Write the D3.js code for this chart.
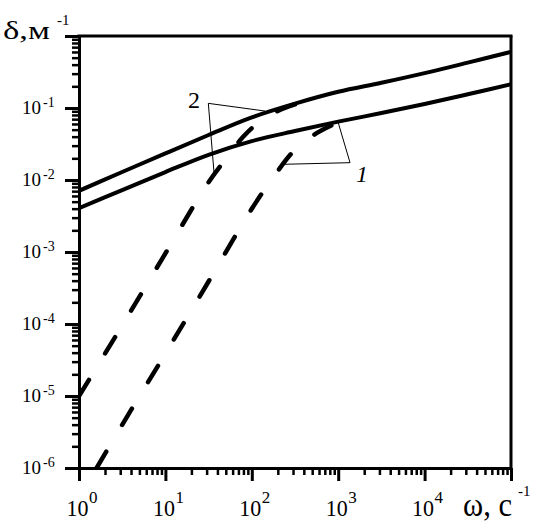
<!DOCTYPE html>
<html><head><meta charset="utf-8">
<script src="https://cdn.jsdelivr.net/npm/d3@7"></script>
<style>
body{margin:0;background:#fff}
svg{display:block}
text{font-family:"Liberation Serif","DejaVu Serif","Times New Roman",serif;fill:#000}
</style>
</head><body>
<svg id="chart" width="543" height="527" font-family="Liberation Serif, DejaVu Serif, serif"></svg>
<script>
// ---- data ----
const omegaSolid  = [1, 3.16, 10, 31.6, 100, 316, 1000, 3162, 1e4, 31623, 1e5];
const deltaSolid2 = [7.08e-3, 1.29e-2, 2.34e-2, 4.22e-2, 7.41e-2, 0.115, 0.168, 0.224, 0.305, 0.427, 0.603];
const deltaSolid1 = [4.07e-3, 7.24e-3, 1.29e-2, 2.24e-2, 3.47e-2, 4.79e-2, 6.46e-2, 8.51e-2, 0.1135, 0.155, 0.214];
const omegaDash2  = [1, 3.16, 10, 31.6, 56.2, 79.4, 126, 200, 316];
const deltaDash2  = [1.0e-5, 9.55e-5, 9.55e-4, 9.33e-3, 2.34e-2, 3.98e-2, 6.61e-2, 9.12e-2, 0.112];
const omegaDash1  = [1.6, 3.16, 10, 31.6, 100, 178, 316, 562, 1000];
const deltaDash1  = [1.0e-6, 3.98e-6, 3.89e-5, 3.89e-4, 3.98e-3, 1.10e-2, 2.63e-2, 4.47e-2, 6.31e-2];
const xTickExps = [0, 1, 2, 3, 4];
const yTickExps = [-6, -5, -4, -3, -2, -1];
const curveLabels = ["2", "1"];
const labelOmega  = [18.3, 1607];
const labelDelta  = [0.099, 0.00946];
const leaderCorner = [[31.4, 0.116], [1371, 0.0174]];
const leaderEnds   = [[[142, 0.0908], [36.5, 0.0129]], [[995, 0.064], [224, 0.0165]]];

// ---- layout ----
const svg = d3.select("#chart");
const x = d3.scaleLog().domain([1, 1e5]).range([79, 511]);
const y = d3.scaleLog().domain([1e-6, 1]).range([468, 36]);

svg.append("clipPath").attr("id", "plot")
  .append("rect").attr("x", 79).attr("y", 36).attr("width", 432).attr("height", 432);

const isPow = v => Math.abs(Math.log10(v) - Math.round(Math.log10(v))) < 1e-9;
const allX = x.ticks();
const majorX = allX.filter(isPow);
const minorX = allX.filter(v => !isPow(v));
const allY = y.ticks();
const majorY = allY.filter(isPow);
const minorY = allY.filter(v => !isPow(v));

function styleAxis(g, w) {
  g.selectAll(".domain").attr("stroke", "#000").attr("stroke-width", 3);
  g.selectAll(".tick line").attr("stroke", "#000").attr("stroke-width", w);
  g.selectAll(".tick text").remove();
}

svg.append("g").attr("transform", "translate(0,468)")
  .call(d3.axisBottom(x).tickValues(minorX).tickSize(7).tickSizeOuter(0).tickFormat(""))
  .call(g => styleAxis(g, 2.5));
svg.append("g").attr("transform", "translate(0,468)")
  .call(d3.axisBottom(x).tickValues(majorX).tickSize(13).tickSizeOuter(0).tickFormat(""))
  .call(g => styleAxis(g, 3));
svg.append("g").attr("transform", "translate(79,0)")
  .call(d3.axisLeft(y).tickValues(minorY).tickSize(7).tickSizeOuter(0).tickFormat(""))
  .call(g => styleAxis(g, 2.5));
svg.append("g").attr("transform", "translate(79,0)")
  .call(d3.axisLeft(y).tickValues(majorY).tickSize(14).tickSizeOuter(0).tickFormat(""))
  .call(g => styleAxis(g, 3));

// frame: top and right
svg.append("line").attr("x1", x.range()[0] - 1.5).attr("x2", x.range()[1] + 1.5)
  .attr("y1", y.range()[1]).attr("y2", y.range()[1]).attr("stroke", "#000").attr("stroke-width", 3);
svg.append("line").attr("x1", x.range()[1]).attr("x2", x.range()[1])
  .attr("y1", y.range()[1]).attr("y2", y.range()[0]).attr("stroke", "#000").attr("stroke-width", 3);

// x tick labels
xTickExps.forEach(e => {
  const px = x(Math.pow(10, e));
  svg.append("text").attr("x", px - 1.5).attr("y", 515.5).attr("text-anchor", "middle")
    .attr("font-size", 23).attr("textLength", 22).attr("lengthAdjust", "spacingAndGlyphs").text("10");
  svg.append("text").attr("x", px + 10).attr("y", 503).attr("font-size", 17).text(String(e));
});
// y tick labels
yTickExps.forEach(e => {
  const py = y(Math.pow(10, e));
  svg.append("text").attr("x", 41).attr("y", py + 6).attr("text-anchor", "end")
    .attr("font-size", 19).text("10");
  svg.append("text").attr("x", 43).attr("y", py - 1).attr("font-size", 14).text(String(e));
});

// axis titles
svg.append("text").attr("x", 3).attr("y", 39).attr("font-size", 26)
  .attr("textLength", 47).attr("lengthAdjust", "spacingAndGlyphs").text("δ,м");
svg.append("text").attr("x", 57).attr("y", 25).attr("font-size", 15).text("-1");
svg.append("text").attr("x", 463).attr("y", 515.5).attr("font-size", 34)
  .attr("textLength", 49).attr("lengthAdjust", "spacingAndGlyphs").text("ω, с");
svg.append("text").attr("x", 518).attr("y", 496).attr("font-size", 15).text("-1");

// curves
const line = d3.line().x(d => x(d[0])).y(d => y(d[1])).curve(d3.curveCatmullRom.alpha(0.5));
const plot = svg.append("g").attr("clip-path", "url(#plot)");
function series(om, de) { return om.map((o, i) => [o, de[i]]); }

plot.append("path").datum(series(omegaDash2, deltaDash2)).attr("d", line)
  .attr("fill", "none").attr("stroke", "#000").attr("stroke-width", 4.5)
  .attr("stroke-linecap", "round").attr("stroke-dasharray", "19,31");
plot.append("path").datum(series(omegaDash1, deltaDash1)).attr("d", line)
  .attr("fill", "none").attr("stroke", "#000").attr("stroke-width", 4.5)
  .attr("stroke-linecap", "round").attr("stroke-dasharray", "19,31");
plot.append("path").datum(series(omegaSolid, deltaSolid2)).attr("d", line)
  .attr("fill", "none").attr("stroke", "#000").attr("stroke-width", 4);
plot.append("path").datum(series(omegaSolid, deltaSolid1)).attr("d", line)
  .attr("fill", "none").attr("stroke", "#000").attr("stroke-width", 4);

// curve labels with leader lines
curveLabels.forEach((t, i) => {
  const c = leaderCorner[i];
  leaderEnds[i].forEach(e => {
    svg.append("line").attr("x1", x(c[0])).attr("y1", y(c[1]))
      .attr("x2", x(e[0])).attr("y2", y(e[1])).attr("stroke", "#000").attr("stroke-width", 1);
  });
  svg.append("text").attr("x", x(labelOmega[i])).attr("y", y(labelDelta[i]))
    .attr("font-size", 24).attr("font-style", i === 1 ? "italic" : "normal").text(t);
});
</script>
</body></html>
